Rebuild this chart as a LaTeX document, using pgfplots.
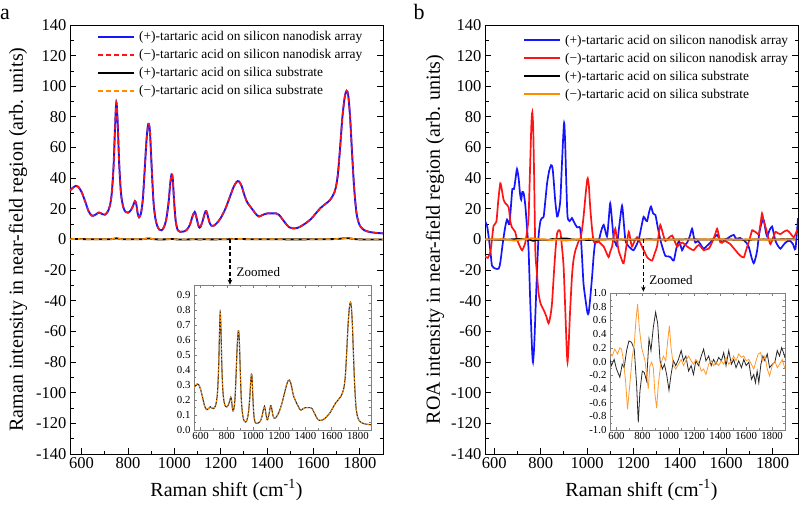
\documentclass[border=0pt]{standalone}
\usepackage{fontspec}
\setmainfont{Liberation Serif}
\usepackage{pgfplots}
\usepackage{pgfplotstable}
\pgfplotsset{compat=1.18}
\usetikzlibrary{arrows.meta}

\definecolor{cBlue}{RGB}{20,20,255}
\definecolor{cRed}{RGB}{255,20,20}
\definecolor{cOrange}{RGB}{255,140,0}
\definecolor{cOrangeL}{RGB}{255,155,45}
\definecolor{cDark}{RGB}{40,40,40}

% Raman spectrum on silicon nanodisk array (panel a)
\pgfplotstableread{
x y
550 32
560 33.5
575 35
585 34.5
600 31
615 25
630 18.5
645 15.5
660 16.2
675 17.6
690 16.5
700 16.2
712 18
722 22
730 30
738 48
744 72
750 89.5
756 75
762 50
770 30
780 21
790 18
800 17.5
812 19
822 22
830 25
836 23
842 17
848 14.5
856 17
864 26
872 45
880 65
886 74
890 75.5
895 70
902 48
910 25
918 14
926 9
935 6.5
945 6
955 8
965 13
975 24
982 36
988 42.5
993 40
999 25
1006 12
1015 6
1025 5
1040 5.2
1055 6.5
1068 10
1078 15
1088 18
1096 14
1105 8.5
1112 8
1122 12
1132 17.5
1138 18.5
1145 15
1152 11
1160 9
1170 9
1185 11
1200 14
1220 20
1240 28
1255 34
1268 37.5
1278 38
1290 35
1300 30
1312 25
1325 22
1340 19
1355 16
1365 15
1380 16
1400 17
1420 17
1440 17
1452 16
1465 13.5
1480 10.5
1495 8
1510 7.3
1530 7.5
1550 9
1570 11
1590 13.5
1610 17
1630 20.5
1650 23
1670 25.5
1685 29
1695 33
1705 42
1715 60
1725 80
1735 93
1743 97
1750 94
1758 80
1766 58
1775 35
1785 18
1795 11
1805 8
1820 6
1840 5
1860 4.5
1880 4.2
1900 4
}\ramanSi

% Raman spectrum on silica substrate (panel a, inset)
\pgfplotstableread{
x y
550 0.282
560 0.295
575 0.308
585 0.304
600 0.273
615 0.220
630 0.163
645 0.136
660 0.143
675 0.155
690 0.145
700 0.143
712 0.158
722 0.194
730 0.264
738 0.422
744 0.634
750 0.788
756 0.660
762 0.440
770 0.264
780 0.185
790 0.158
800 0.154
812 0.167
822 0.194
830 0.220
836 0.202
842 0.150
848 0.128
856 0.150
864 0.229
872 0.396
880 0.572
886 0.651
890 0.664
895 0.616
902 0.422
910 0.220
918 0.123
926 0.079
935 0.057
945 0.053
955 0.070
965 0.114
975 0.211
982 0.317
988 0.374
993 0.352
999 0.220
1006 0.106
1015 0.053
1025 0.044
1040 0.046
1055 0.057
1068 0.088
1078 0.132
1088 0.158
1096 0.123
1105 0.075
1112 0.070
1122 0.106
1132 0.154
1138 0.163
1145 0.132
1152 0.097
1160 0.079
1170 0.079
1185 0.097
1200 0.123
1220 0.176
1240 0.246
1255 0.299
1268 0.330
1278 0.334
1290 0.308
1300 0.264
1312 0.220
1325 0.194
1340 0.167
1355 0.141
1365 0.132
1380 0.141
1400 0.150
1420 0.150
1440 0.150
1452 0.141
1465 0.119
1480 0.092
1495 0.070
1510 0.064
1530 0.066
1550 0.079
1570 0.097
1590 0.119
1610 0.150
1630 0.180
1650 0.202
1670 0.224
1685 0.255
1695 0.290
1705 0.370
1715 0.528
1725 0.704
1735 0.818
1743 0.854
1750 0.827
1758 0.704
1766 0.510
1775 0.308
1785 0.158
1795 0.097
1805 0.070
1820 0.053
1840 0.044
1860 0.040
1880 0.037
1900 0.035
}\ramanSiO

% ROA (+) on silicon nanodisk array
\pgfplotstableread{
x y
560 12
570 8
583 -7
590 -17
605 -19
619 -19
626 -15
637 -2
647 8
655 13
665 10
672 22
678 33
685 33
692 40
698 46
705 40
711 30
716 26
721 31
727 30
734 22
741 8
748 -7
755 -40
763 -72
767 -80
772 -70
777 -50
784 -22
791 2
799 12
806 14
813 15
820 25
828 37
837 45
845 48.5
851 47
856 39
863 25
871 15
878 18
885 26
892 50
899 72
902 76
906 62
911 35
916 15
925 12
935 14
945 11
957 8
964 8
971 7
978 -10
985 -29
996 -42
1002 -48
1007 -48
1014 -38
1022 -24
1029 -10
1036 -1.5
1050 -1
1060 5
1072 9.5
1086 2
1093 12
1100 23.6
1108 12
1115 0.5
1122 -2
1129 -3.6
1140 10
1151 22
1158 12
1165 0
1172 -3
1180 -4.6
1190 -6
1201 -7
1212 -4
1223 0
1234 8
1244 14.8
1252 13
1259 12
1268 18
1276 21.5
1285 17
1295 16
1305 8
1316 0
1327 -6
1338 -10.7
1350 -11
1360 -11.5
1374 -13.7
1385 -6
1396 -1
1404 -4
1410 -7
1420 -4
1432 -2
1443 2
1453 7
1460 2
1467 -2
1478 -1
1489 -3
1503 -6
1518 -4
1532 -2
1547 1
1561 3
1572 0
1583 -2
1594 0
1604 0.5
1618 2
1633 3
1640 1
1647 0.5
1660 1
1676 -0.5
1687 -2
1698 -5
1710 -12
1719 -15.5
1727 -12
1734 -7
1741 2
1748 8
1756 12
1763 12.5
1770 6
1777 2
1787 6
1798 8.5
1805 4
1813 -1
1823 -4
1834 -6
1845 -4
1856 -2
1866 -1
1877 -1
1888 -3
1899 -6
1910 14
}\roaPlusSi

% ROA (-) on silicon nanodisk array
\pgfplotstableread{
x y
560 -11
572 -12
583 -8.3
590 0
597 9
609 11.6
617 25
626 36.7
633 32
640 26
648 23.6
662 21
669 12
676 8
690 5
698 0
712 -5
720 -7
727 -5
734 -2
741 5
748 14.8
754 45
760 75
764 83
768 72
772 40
777 -7
784 -22
791 -35
800 -42
813 -46
824 -50
834 -54.7
842 -50
849 -41.6
858 -20
865 -5
871 4
878 6
885 5
892 -5
899 -17.7
906 -45
912 -70
916 -80
921 -68
926 -50
931 -35
936 -22
942 -13
950 -7
957 -4
964 -1
971 0
978 6
985 14.8
993 28
1000 38
1003 40
1008 35
1012 25
1017 14.8
1023 5
1029 -1.5
1040 -2
1050 -1.5
1061 -3
1072 -4.6
1082 -8
1093 -11.5
1100 -8
1108 -4.6
1115 2
1122 7
1129 0
1136 -7
1147 -12
1158 -15.5
1169 -5
1180 5
1187 0
1194 -4.6
1205 -1
1216 1.5
1226 -1
1237 -4.6
1248 -8
1259 -11.5
1270 -13
1281 -13.7
1292 -9
1302 -4.6
1309 3
1316 9.5
1327 4
1338 -1
1352 1
1367 2.6
1378 -1
1389 -4.6
1400 -3
1410 -2
1420 -3
1432 -4.6
1446 -6
1460 -7
1471 -5
1482 -3.6
1492 -5
1503 -7
1514 -6.5
1525 -6
1536 -3
1546 0.5
1554 4
1561 7
1568 3
1575 -2
1586 -1.5
1597 -1
1608 -2
1618 -3
1629 -5
1640 -7
1651 -9
1662 -10.7
1676 -11.7
1684 -8
1691 -4.6
1701 0
1712 6
1719 5.5
1726 5
1734 4
1741 3.5
1748 10
1755 17
1762 12
1774 6
1782 1
1791 -3
1802 1
1813 5
1824 4
1834 3.5
1848 5
1863 6
1877 4
1892 1.5
1906 6
}\roaMinusSi

% ROA (+) on silica substrate
\pgfplotstableread{
x y
550 0.03
561 -0.06
582 0.03
600 -0.11
626 -0.23
644 -0.04
659 -0.09
678 0.16
696 0.30
716 0.28
737 0.18
755 -0.33
768 -0.89
781 -0.43
799 -0.14
814 -0.16
832 -0.28
851 0.33
866 0.16
884 0.50
902 0.72
918 0.55
936 0.01
954 -0.11
970 -0.04
987 -0.19
1005 -0.42
1021 -0.19
1039 0.01
1057 -0.06
1078 0.03
1099 0.16
1117 0.01
1135 0.08
1156 -0.14
1176 -0.06
1194 -0.19
1212 0.01
1233 -0.06
1254 0.08
1272 0.18
1290 0.01
1311 0.08
1331 -0.06
1349 0.03
1367 -0.04
1388 0.06
1409 0.01
1427 0.13
1445 -0.06
1466 0.16
1486 -0.04
1504 0.03
1522 -0.09
1543 0.01
1564 -0.09
1582 0.03
1600 -0.06
1621 -0.01
1641 -0.26
1659 -0.19
1672 -0.31
1685 -0.14
1698 -0.31
1714 -0.04
1729 0.08
1745 0.01
1763 0.11
1781 -0.09
1802 -0.04
1822 -0.01
1840 0.16
1858 0.08
1874 0.20
1892 0.11
1900 0.05
}\roaPlusSiO

% ROA (-) on silica substrate
\pgfplotstableread{
x y
550 0.13
566 0.08
587 0.18
608 0.11
626 0.20
639 0.18
652 0.03
670 -0.28
685 -0.70
703 -0.33
721 0.06
737 0.25
750 0.60
763 0.84
776 0.49
794 0.20
807 0.11
820 0.01
832 -0.19
845 -0.40
858 -0.06
871 -0.01
884 -0.09
897 -0.48
910 -0.68
923 -0.33
941 -0.04
962 0.08
980 0.01
995 0.30
1008 0.52
1021 0.20
1039 -0.06
1057 -0.11
1078 -0.04
1099 0.03
1117 -0.06
1135 0.01
1156 0.08
1176 0.01
1194 -0.04
1212 0.03
1233 -0.01
1254 -0.14
1272 -0.11
1290 -0.19
1311 -0.04
1331 0.01
1349 -0.06
1367 -0.01
1388 -0.06
1409 0.01
1427 -0.04
1445 0.06
1466 -0.04
1486 0.01
1504 0.08
1522 0.01
1543 0.11
1564 0.06
1582 0.08
1600 0.01
1621 0.03
1641 -0.04
1659 -0.11
1677 0.01
1693 0.11
1711 0.13
1729 0.01
1745 0.08
1763 -0.11
1781 -0.21
1802 -0.06
1822 0.01
1840 -0.09
1858 -0.04
1879 0.03
1900 -0.11
}\roaMinusSiO

\pgfplotsset{
  mainax/.style={
    anchor=south west, scale only axis, width=313pt, height=429pt,
    ymin=-140, ymax=140,
    xtick={600,800,...,1800}, ytick={-140,-120,...,140},
    minor x tick num=1, minor y tick num=1,
    xtick pos=left, ytick pos=both, tick align=inside,
    major tick length=6pt, minor tick length=3.5pt,
    axis line style={line width=0.9pt, black},
    every tick/.style={line width=0.9pt, black},
    /pgf/number format/assume math mode=true,
    /pgf/number format/set thousands separator={},
    tick label style={font=\fontsize{16.5}{18}\selectfont},
    label style={font=\fontsize{20}{22}\selectfont},
    xlabel style={at={(axis description cs:0.5,-0.084)}, anchor=center},
    xlabel={Raman shift (cm\textsuperscript{-1})},
    legend cell align=left,
    legend image code/.code={\draw[##1] (0pt,0pt) -- (36pt,0pt);},
    legend style={draw=none, fill=none, anchor=north west,
      font=\fontsize{13.4}{15}\selectfont, row sep=3.2pt,
      /tikz/every odd column/.append style={column sep=2pt}},
  },
  insetax/.style={
    anchor=south west, scale only axis,
    xmin=550, xmax=1900, xtick={600,800,...,1800},
    minor x tick num=1, minor y tick num=1,
    tick align=inside, major tick length=3pt, minor tick length=2pt,
    axis background/.style={fill=white},
    axis line style={line width=0.6pt, gray},
    every tick/.style={line width=0.5pt, gray},
    /pgf/number format/assume math mode=true,
    /pgf/number format/set thousands separator={},
    tick label style={font=\fontsize{10.8}{12}\selectfont},
    xticklabel style={yshift=1pt},
    yticklabel style={/pgf/number format/.cd, fixed, fixed zerofill, precision=1},
  },
}

\begin{document}
\begin{tikzpicture}
\path[use as bounding box] (0pt,0pt) rectangle (799pt,508pt);

% ---------------- panel a ----------------
\begin{axis}[mainax, at={(70pt,54pt)}, xmin=550, xmax=1900,
  ylabel={Raman intensity in near-field region (arb. units)},
  ylabel style={at={(axis description cs:-0.166,0.5)}, anchor=center},
  legend style={at={(axis description cs:0.077,0.995)}},
]
\addplot[cBlue, line width=1.9pt, smooth, tension=0.5] table[x=x,y=y] {\ramanSi};
\addlegendentry{(+)-tartaric acid on silicon nanodisk array}
\addplot[cRed, line width=1.6pt, dash pattern=on 5pt off 3pt, smooth, tension=0.5] table[x=x,y=y] {\ramanSi};
\addlegendentry{(\textminus)-tartaric acid on silicon nanodisk array}
\addplot[black, line width=1.8pt, smooth, tension=0.5] table[x=x,y=y] {\ramanSiO};
\addlegendentry{(+)-tartaric acid on silica substrate}
\addplot[cOrange, line width=1.6pt, dash pattern=on 5pt off 3pt, smooth, tension=0.5] table[x=x,y=y] {\ramanSiO};
\addlegendentry{(\textminus)-tartaric acid on silica substrate}
\draw[black, line width=1.3pt, dash pattern=on 4pt off 2.5pt, -{Stealth[length=5pt,width=4.5pt]}] (axis cs:1240,0) -- (axis cs:1240,-29.5);
\node[anchor=west, font=\fontsize{13}{15}\selectfont, inner sep=0pt] at (axis cs:1268,-21) {Zoomed};
\end{axis}

\begin{axis}[insetax, at={(194pt,78pt)}, width=177pt, height=145pt,
  ymin=0, ymax=0.97, ytick={0,0.1,0.2,0.3,0.4,0.5,0.6,0.7,0.8,0.9}]
\addplot[cDark, line width=1.1pt, smooth, tension=0.5] table[x=x,y=y] {\ramanSiO};
\addplot[cOrange, line width=0.9pt, dash pattern=on 2pt off 1.5pt, smooth, tension=0.5] table[x=x,y=y] {\ramanSiO};
\end{axis}

% ---------------- panel b ----------------
\begin{axis}[mainax, at={(485pt,54pt)}, xmin=560, xmax=1910,
  ylabel={ROA intensity in near-field region (arb. units)},
  ylabel style={at={(axis description cs:-0.16,0.5)}, anchor=center},
  legend style={at={(axis description cs:0.112,0.987)}},
]
\addplot[cBlue, line width=1.7pt, smooth, tension=0.4] table[x=x,y=y] {\roaPlusSi};
\addlegendentry{(+)-tartaric acid on silicon nanodisk array}
\addplot[cRed, line width=1.7pt, smooth, tension=0.4] table[x=x,y=y] {\roaMinusSi};
\addlegendentry{(\textminus)-tartaric acid on silicon nanodisk array}
\addplot[black, line width=1.7pt] table[x=x,y=y] {\roaPlusSiO};
\addlegendentry{(+)-tartaric acid on silica substrate}
\addplot[cOrange, line width=1.9pt] table[x=x,y=y] {\roaMinusSiO};
\addlegendentry{(\textminus)-tartaric acid on silica substrate}
\draw[black, line width=1.3pt, dash pattern=on 4pt off 2.5pt, -{Stealth[length=5pt,width=4.5pt]}] (axis cs:1243,0) -- (axis cs:1243,-34);
\node[anchor=west, font=\fontsize{13}{15}\selectfont, inner sep=0pt] at (axis cs:1268,-26.5) {Zoomed};
\end{axis}

\begin{axis}[insetax, at={(610pt,78pt)}, width=175pt, height=137pt,
  ymin=-1, ymax=1, ytick={-1,-0.8,-0.6,-0.4,-0.2,0,0.2,0.4,0.6,0.8,1}]
\addplot[cDark, line width=0.8pt] table[x=x,y=y] {\roaPlusSiO};
\addplot[cOrangeL, line width=0.8pt] table[x=x,y=y] {\roaMinusSiO};
\end{axis}

\node[font=\fontsize{22}{24}\selectfont] at (5pt,494pt) {a};
\node[font=\fontsize{22}{24}\selectfont] at (419pt,496pt) {b};
\end{tikzpicture}
\end{document}
